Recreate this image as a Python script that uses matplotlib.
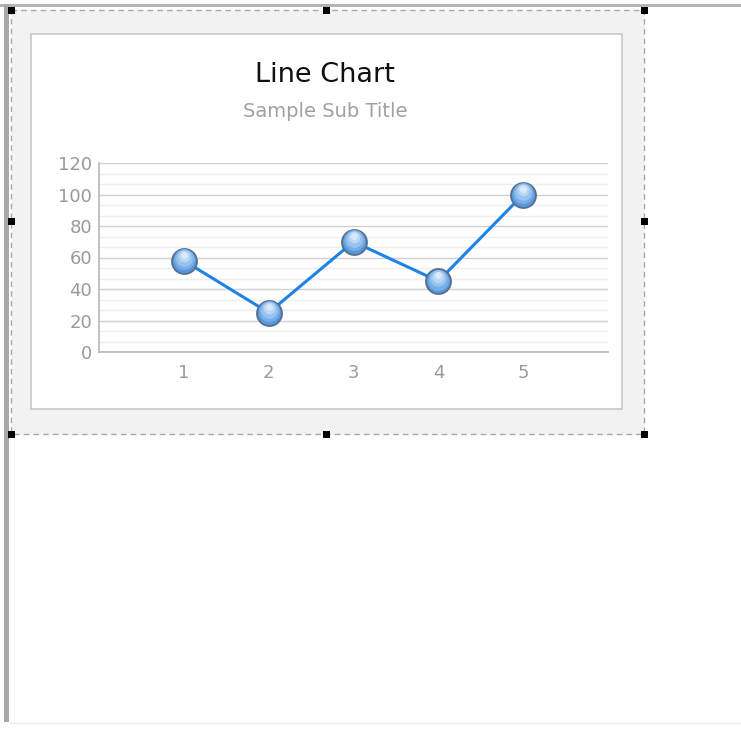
import matplotlib.pyplot as plt
from matplotlib.patches import Rectangle
from matplotlib.transforms import offset_copy
import numpy as np

# chart data
categories = [1, 2, 3, 4, 5]
values = [58, 25, 70, 45, 100]
y_ticks = [0, 20, 40, 60, 80, 100, 120]
title = 'Line Chart'
subtitle = 'Sample Sub Title'

W, H = 741, 729
fig = plt.figure(figsize=(W / 100, H / 100), dpi=100)

# background layer in pixel coordinates (designer canvas)
bg = fig.add_axes([0, 0, 1, 1])
bg.set_xlim(0, W)
bg.set_ylim(H, 0)
bg.axis('off')

bg.add_patch(Rectangle((0, 4), W, 3, color='#b4b4b4', lw=0))
bg.add_patch(Rectangle((4, 4), 5, 718, color='#a8a8a8', lw=0))
bg.plot([9, W], [723, 723], color='#ececec', lw=1)

# selection frame
bg.add_patch(Rectangle((11, 10), 633, 424, facecolor='#f2f2f2', edgecolor='#a8a8a8',
                       lw=1, linestyle=(0, (4, 3))))
# chart panel
bg.add_patch(Rectangle((31, 34), 591, 375, facecolor='white', edgecolor='#c8c8c8', lw=1.2))

# handles
for hx, hy in [(11, 10), (326, 10), (644, 10), (11, 221), (644, 221),
               (11, 434), (326, 434), (644, 434)]:
    bg.add_patch(Rectangle((hx - 3.5, hy - 3.5), 7, 7, color='black', lw=0))

bg.text(325, 75, title, ha='center', va='center', fontsize=19.5, color='#111111')
bg.text(325, 111, subtitle, ha='center', va='center', fontsize=14, color='#a0a0a0')

# plot area
left, right, top, bottom = 99, 608, 163, 352
ax = fig.add_axes([left / W, 1 - bottom / H, (right - left) / W, (bottom - top) / H])
ax.set_xlim(0, 6)
ax.set_ylim(0, 120)
ax.set_facecolor('none')

for y in np.arange(0, 120.01, 20 / 3):
    major = abs(y / 20 - round(y / 20)) < 1e-6
    ax.axhline(y, color='#d0d0d0' if major else '#eeeeee', lw=1, zorder=0)

for s in ['top', 'right']:
    ax.spines[s].set_visible(False)
for s in ['left', 'bottom']:
    ax.spines[s].set_color('#b8b8b8')
    ax.spines[s].set_linewidth(1.2)

ax.set_xticks(categories)
ax.set_yticks(y_ticks)
ax.tick_params(axis='both', length=0, labelcolor='#9a9a9a', labelsize=13)
ax.tick_params(axis='y', pad=5)
ax.tick_params(axis='x', pad=9)

ax.plot(categories, values, color='#1e82e6', lw=2.2, zorder=3)
# glossy markers: stacked circles give a top-light gradient
ax.plot(categories, values, 'o', ms=18, mfc='#5897dd', mec='#566f8a', mew=1.3, zorder=4)
layers = [(15, 1.0, '#78aee8'), (12, 2.0, '#98c2f0'), (8.5, 3.2, '#b9d6f5'), (5, 4.3, '#d9e9fa')]
for k, (ms, dy, fc) in enumerate(layers):
    ax.plot(categories, values, 'o', ms=ms, mfc=fc, mec='none', zorder=5 + k,
            transform=offset_copy(ax.transData, fig=fig, x=0, y=dy, units='points'))

fig.savefig('out.png', dpi=100)
